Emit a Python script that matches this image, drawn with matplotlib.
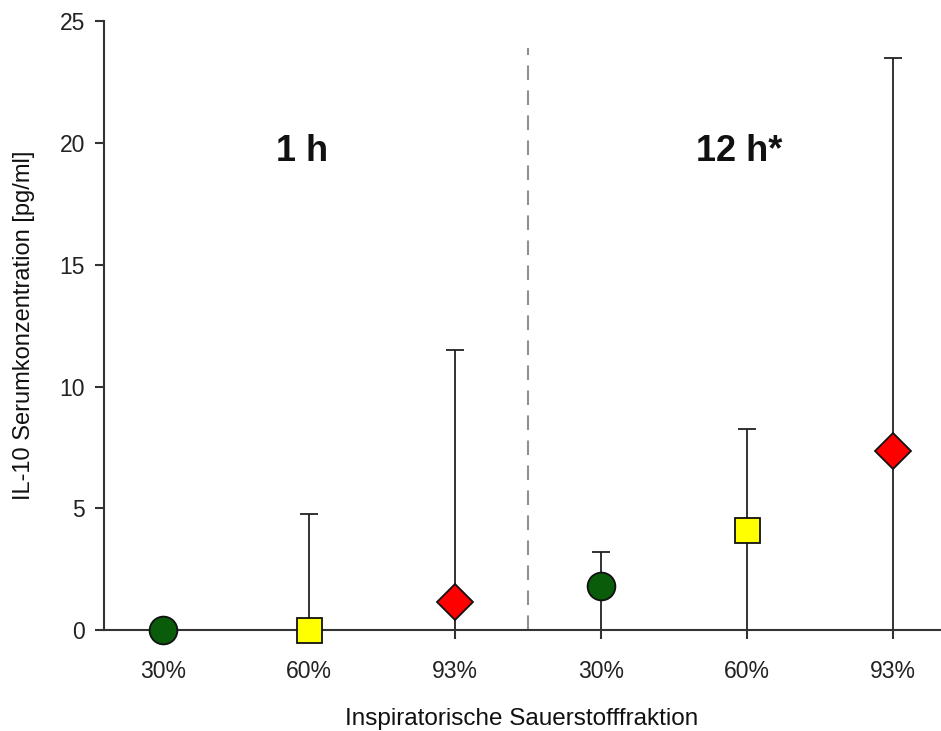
import matplotlib.pyplot as plt

plt.rcParams['font.family'] = ['Liberation Sans', 'DejaVu Sans']

# data: median with upper range, lower range down to 0
labels = ["30%", "60%", "93%", "30%", "60%", "93%"]
values = [0.0, 0.0, 1.15, 1.8, 4.1, 7.35]
upper = [0.0, 4.75, 11.5, 3.2, 8.25, 23.5]
lower = [0.0, 0.0, 0.0, 0.0, 0.0, 0.0]
markers = ["o", "s", "D", "o", "s", "D"]
colors = ["#0a5c0a", "#ffff00", "#ff0000", "#0a5c0a", "#ffff00", "#ff0000"]
sizes = [20, 18, 18, 20, 18, 18]
groups = ["1 h", "12 h*"]

fig = plt.figure(figsize=(9.41, 7.31), dpi=100)
ax = fig.add_axes([0.1105, 0.138, 0.888, 0.833])

x = list(range(len(values)))
for i in x:
    yerr = [[values[i] - lower[i]], [upper[i] - values[i]]]
    ax.errorbar(x[i], values[i], yerr=yerr, fmt="none", ecolor="#222222",
                elinewidth=1.3, capsize=6.5, capthick=1.3, zorder=2)
    ax.plot(x[i], values[i], marker=markers[i], markersize=sizes[i],
            markerfacecolor=colors[i], markeredgecolor="#111111",
            markeredgewidth=1.3, linestyle="none", zorder=3, clip_on=False)

# separator between time points
ax.vlines(2.5, 0, 23.9, colors="#909090", linestyles=(0, (7, 5)), linewidth=1.5)

ax.text(0.955, 19.65, groups[0], ha="center", va="center", fontsize=26,
        fontweight="bold", color="#111111")
ax.text(3.945, 19.65, groups[1], ha="center", va="center", fontsize=26,
        fontweight="bold", color="#111111")

ax.set_xlim(-0.404, 5.32)
ax.set_ylim(0, 25)
ax.set_xticks(x)
ax.set_xticklabels(labels)
ax.set_yticks([0, 5, 10, 15, 20, 25])

for s in ["top", "right"]:
    ax.spines[s].set_visible(False)
for s in ["left", "bottom"]:
    ax.spines[s].set_linewidth(1.5)
    ax.spines[s].set_color("#333333")

ax.tick_params(axis="both", direction="out", length=6.5, width=1.5,
               color="#333333", labelsize=16.5, labelcolor="#222222")
ax.tick_params(axis="x", pad=15)
ax.tick_params(axis="y", pad=7)

ax.set_xlabel("Inspiratorische Sauerstofffraktion", fontsize=17.5,
              color="#111111", labelpad=18)
ax.set_ylabel("IL-10 Serumkonzentration [pg/ml]", fontsize=17,
              color="#111111", labelpad=18)

plt.savefig("out.png", dpi=100)
